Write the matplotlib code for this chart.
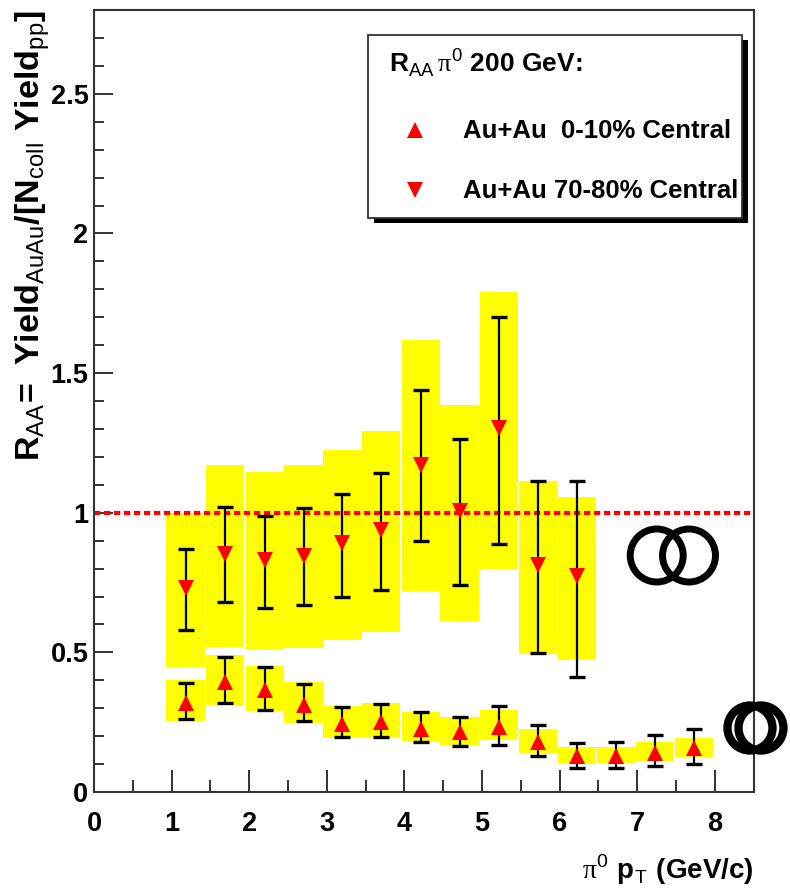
import numpy as np
import matplotlib
matplotlib.use("Agg")
import matplotlib.pyplot as plt
from matplotlib.patches import Rectangle, Circle

plt.rcParams["font.family"] = ["Liberation Sans", "DejaVu Sans"]
plt.rcParams["mathtext.fontset"] = "custom"
plt.rcParams["mathtext.rm"] = "Liberation Sans"
plt.rcParams["mathtext.bf"] = "Liberation Sans:bold"
plt.rcParams["mathtext.sf"] = "Liberation Serif"

# Au+Au 0-10% central: R_AA with stat. error bars and syst. boxes
pt_central = np.array([1.18, 1.69, 2.20, 2.70, 3.20, 3.70, 4.21,
                       4.71, 5.22, 5.72, 6.22, 6.73, 7.23, 7.73])
raa_central = np.array([0.317, 0.394, 0.365, 0.313, 0.245, 0.251, 0.227,
                        0.215, 0.233, 0.180, 0.129, 0.129, 0.140, 0.156])
stat_lo_central = np.array([0.260, 0.320, 0.293, 0.254, 0.198, 0.198, 0.180,
                            0.164, 0.168, 0.129, 0.087, 0.087, 0.093, 0.100])
stat_hi_central = np.array([0.392, 0.483, 0.448, 0.388, 0.305, 0.314, 0.287,
                            0.267, 0.307, 0.239, 0.176, 0.180, 0.204, 0.224])
sys_lo_central = np.array([0.254, 0.312, 0.289, 0.248, 0.194, 0.195, 0.182,
                           0.168, 0.186, 0.140, 0.100, 0.105, 0.112, 0.124])
sys_hi_central = np.array([0.400, 0.489, 0.451, 0.394, 0.308, 0.317, 0.287,
                           0.269, 0.293, 0.224, 0.162, 0.162, 0.180, 0.195])

# Au+Au 70-80% peripheral
pt_periph = pt_central[:11]
raa_periph = np.array([0.730, 0.852, 0.830, 0.846, 0.890, 0.938, 1.171,
                       1.007, 1.302, 0.812, 0.772])
stat_lo_periph = np.array([0.580, 0.680, 0.660, 0.668, 0.700, 0.725, 0.898,
                           0.740, 0.888, 0.497, 0.413])
stat_hi_periph = np.array([0.870, 1.020, 0.990, 1.017, 1.067, 1.141, 1.438,
                           1.265, 1.700, 1.114, 1.112])
sys_lo_periph = np.array([0.447, 0.520, 0.507, 0.517, 0.545, 0.573, 0.721,
                          0.614, 0.800, 0.495, 0.471])
sys_hi_periph = np.array([1.000, 1.170, 1.144, 1.170, 1.224, 1.293, 1.617,
                          1.386, 1.790, 1.114, 1.055])

BOX_WIDTH = 0.495
YELLOW = "#ffff00"
RED = "#ff0000"
FRAME = "#333333"

fig = plt.figure(figsize=(7.9, 8.93), dpi=100)
ax = fig.add_axes([0.119, 0.1131, 0.835, 0.8757])

# systematic boxes
for lo, hi, x in ((sys_lo_periph, sys_hi_periph, pt_periph),
                  (sys_lo_central, sys_hi_central, pt_central)):
    ax.bar(x, hi - lo, bottom=lo, width=BOX_WIDTH, color=YELLOW,
           edgecolor="none", zorder=1)

# unity reference
ax.axhline(1.0, color=RED, lw=3.0, ls=(0, (1.5, 0.9)), zorder=2)

# statistical errors and points
for x, y, lo, hi, mk in ((pt_periph, raa_periph, stat_lo_periph, stat_hi_periph, "v"),
                         (pt_central, raa_central, stat_lo_central, stat_hi_central, "^")):
    ax.errorbar(x, y, yerr=[y - lo, hi - y], fmt="none", ecolor="black",
                elinewidth=1.6, capsize=6, capthick=2.4, zorder=3)
    ax.plot(x, y, ls="none", marker=mk, ms=12, color=RED, mew=0, zorder=4)

ax.set_xlim(0, 8.5)
ax.set_ylim(0, 2.8)
ax.set_xticks(np.arange(0, 9, 1))
ax.set_xticks(np.arange(0.5, 8.5, 1), minor=True)
ax.set_yticks(np.arange(0, 2.6, 0.5))
ax.set_yticks(np.arange(0.1, 2.8, 0.1), minor=True)
ax.set_xticklabels([f"{v:g}" for v in np.arange(0, 9, 1)])
ax.set_yticklabels([f"{v:g}" for v in np.arange(0, 2.6, 0.5)])
ax.tick_params(axis="both", which="both", direction="in", colors=FRAME,
               labelcolor="black", width=1.4, top=False, right=False)
ax.tick_params(axis="y", which="major", length=14, pad=4)
ax.tick_params(axis="y", which="minor", length=7)
ax.tick_params(axis="x", which="major", length=16, pad=14)
ax.tick_params(axis="x", which="minor", length=8.5)
for lab in ax.get_xticklabels() + ax.get_yticklabels():
    lab.set_fontsize(19.5)
    lab.set_fontweight("bold")
for sp in ax.spines.values():
    sp.set_color(FRAME)
    sp.set_linewidth(1.5)

ax.set_ylabel(r"$\mathbf{R}_{\mathrm{AA}}\!\mathbf{=\ Yield}_{\mathrm{AuAu}}"
              r"\mathbf{/[N}_{\mathrm{coll}}\mathbf{\ Yield}_{\mathrm{pp}}\mathbf{]}$",
              fontsize=24.5, loc="top")
ax.yaxis.set_label_coords(-0.064, 1.0)
ax.set_xlabel(r"$\mathsf{\pi}^{0}\ \mathbf{p}_{\mathrm{T}}\ \mathbf{(GeV/c)}$",
              fontsize=20, loc="right")
ax.xaxis.set_label_coords(1.0, -0.078)
ax.xaxis.label.set_va("top")

# legend box with drop shadow
tr = ax.transAxes
ax.add_patch(Rectangle((0.424, 0.727), 0.568, 0.234, transform=tr,
                       facecolor="black", edgecolor="none", clip_on=False, zorder=5))
ax.add_patch(Rectangle((0.415, 0.734), 0.568, 0.234, transform=tr,
                       facecolor="white", edgecolor=FRAME, lw=1.3,
                       clip_on=False, zorder=6))
ax.text(0.447, 0.920, r"$\mathbf{R}_{\mathrm{AA}}\,\mathsf{\pi}^{0}$ 200 GeV:",
        transform=tr, fontsize=19, fontweight="bold", ha="left",
        va="baseline", zorder=7)
ax.plot([0.486], [0.8465], transform=tr, marker="^", ms=12, color=RED,
        mew=0, ls="none", clip_on=False, zorder=7)
ax.text(0.559, 0.836, "Au+Au  0-10% Central", transform=tr, fontsize=18.5,
        fontweight="bold", ha="left", va="baseline", zorder=7)
ax.plot([0.486], [0.770], transform=tr, marker="v", ms=11, color=RED,
        mew=0, ls="none", clip_on=False, zorder=7)
ax.text(0.559, 0.7596, "Au+Au 70-80% Central", transform=tr, fontsize=18.5,
        fontweight="bold", ha="left", va="baseline", zorder=7)

# ring symbols placed on the page (inches from lower-left)
H = 8.93
for cx, cy, r, lw in ((6.567, 5.555, 0.265, 5.0), (6.89, 5.555, 0.265, 5.0),
                      (7.50, 7.28, 0.225, 6.0), (7.61, 7.28, 0.225, 6.0)):
    fig.add_artist(Circle((cx, H - cy), r, transform=fig.dpi_scale_trans,
                          fill=False, edgecolor="black", lw=lw, zorder=10))

fig.savefig("out.png", dpi=100, facecolor="white")
